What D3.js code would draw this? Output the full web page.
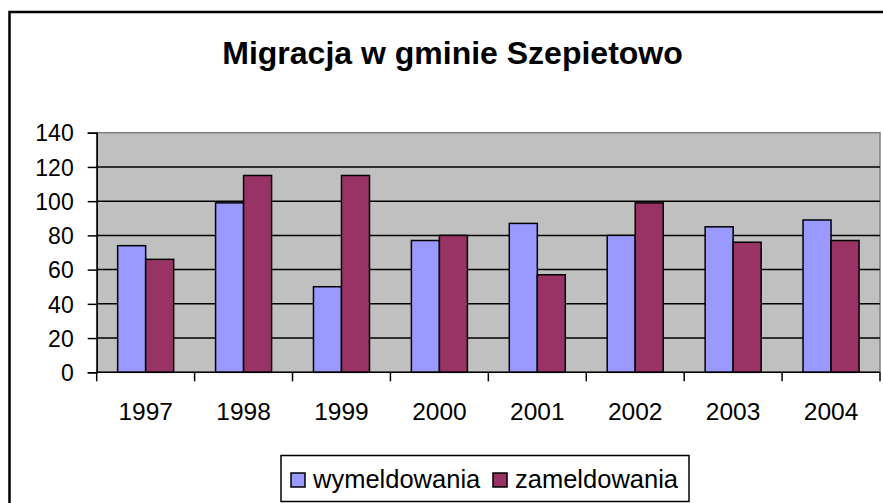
<!DOCTYPE html>
<html>
<head>
<meta charset="utf-8">
<script src="https://d3js.org/d3.v7.min.js"></script>
<style>
  body { margin: 0; background: #fff; }
  svg text { font-family: "Liberation Sans", Arial, sans-serif; fill: #000; }
</style>
</head>
<body>
<svg id="chart"></svg>
<script>
  // Data
  const years = ["1997", "1998", "1999", "2000", "2001", "2002", "2003", "2004"];
  const seriesNames = ["wymeldowania", "zameldowania"];
  const wymeldowania = [74, 99, 50, 77, 87, 80, 85, 89];
  const zameldowania = [66, 115, 115, 80, 57, 99, 76, 77];
  const yTicks = [0, 20, 40, 60, 80, 100, 120, 140];
  const colors = ["#9999FF", "#993366"];

  const width = 883, height = 503;
  const plot = { left: 96.7, right: 880, top: 132.7, bottom: 372.3 };

  const svg = d3.select("#chart")
    .attr("width", width)
    .attr("height", height);

  // outer chart frame (runs past the right and bottom edges)
  svg.append("rect")
    .attr("x", 9.5).attr("y", 12)
    .attr("width", 886).attr("height", 520)
    .attr("fill", "#fff")
    .attr("stroke", "#000")
    .attr("stroke-width", 2.5);

  svg.append("text")
    .attr("x", 452.5).attr("y", 63.5)
    .attr("text-anchor", "middle")
    .style("font-size", "32px")
    .style("font-weight", "bold")
    .text("Migracja w gminie Szepietowo");

  const x = d3.scaleBand()
    .domain(years)
    .range([plot.left, plot.right])
    .padding(0);

  const xInner = d3.scaleBand()
    .domain(seriesNames)
    .range([0, x.bandwidth()])
    .paddingInner(0)
    .paddingOuter(0.748);

  const y = d3.scaleLinear()
    .domain([0, 140])
    .range([plot.bottom, plot.top]);

  // plot background
  svg.append("rect")
    .attr("x", plot.left).attr("y", plot.top)
    .attr("width", plot.right - plot.left)
    .attr("height", plot.bottom - plot.top)
    .attr("fill", "#C0C0C0")
    .attr("stroke", "#808080")
    .attr("stroke-width", 1.5);

  // gridlines
  svg.append("g")
    .selectAll("line")
    .data(yTicks.filter(t => t > 0 && t < 140))
    .enter()
    .append("line")
    .attr("x1", plot.left).attr("x2", plot.right)
    .attr("y1", d => y(d)).attr("y2", d => y(d))
    .attr("stroke", "#000")
    .attr("stroke-width", 1.5);

  // bars
  const rows = years.map((yr, i) => ({ year: yr, values: [wymeldowania[i], zameldowania[i]] }));
  svg.append("g")
    .selectAll("g")
    .data(rows)
    .enter()
    .append("g")
    .attr("transform", d => `translate(${x(d.year)},0)`)
    .selectAll("rect")
    .data(d => d.values.map((v, j) => ({ key: seriesNames[j], value: v, idx: j })))
    .enter()
    .append("rect")
    .attr("x", d => xInner(d.key))
    .attr("y", d => y(d.value))
    .attr("width", xInner.bandwidth())
    .attr("height", d => y(0) - y(d.value))
    .attr("fill", d => colors[d.idx])
    .attr("stroke", "#000")
    .attr("stroke-width", 1.5);

  // y axis
  const yAxis = svg.append("g")
    .attr("transform", `translate(${plot.left},0)`)
    .call(d3.axisLeft(y).tickValues(yTicks).tickSize(9).tickPadding(14));
  yAxis.select(".domain").attr("stroke", "#000").attr("stroke-width", 1.5);
  yAxis.selectAll(".tick line").attr("stroke", "#000").attr("stroke-width", 1.5);
  yAxis.selectAll(".tick text")
    .style("font-size", "23px")
    .attr("font-family", null)
    .attr("dy", "0.36em");

  // x axis with ticks at category boundaries
  const xAxisG = svg.append("g")
    .attr("transform", `translate(0,${plot.bottom})`);
  xAxisG.append("line")
    .attr("x1", plot.left).attr("x2", plot.right)
    .attr("stroke", "#000").attr("stroke-width", 1.5);
  const bounds = years.map(d => x(d)).concat([x(years[years.length - 1]) + x.bandwidth()]);
  xAxisG.selectAll("line.tk")
    .data(bounds)
    .enter()
    .append("line")
    .attr("class", "tk")
    .attr("x1", d => d).attr("x2", d => d)
    .attr("y1", 0).attr("y2", 9)
    .attr("stroke", "#000").attr("stroke-width", 1.5);
  xAxisG.selectAll("text")
    .data(years)
    .enter()
    .append("text")
    .attr("x", d => x(d) + x.bandwidth() / 2)
    .attr("y", 48)
    .attr("text-anchor", "middle")
    .style("font-size", "24.5px")
    .text(d => d);

  // legend
  const legend = svg.append("g");
  legend.append("rect")
    .attr("x", 281).attr("y", 455.5)
    .attr("width", 408).attr("height", 46)
    .attr("fill", "#fff")
    .attr("stroke", "#000")
    .attr("stroke-width", 1.5);
  const legendX = [291, 493];
  seriesNames.forEach((name, i) => {
    legend.append("rect")
      .attr("x", legendX[i]).attr("y", 473)
      .attr("width", 14).attr("height", 14)
      .attr("fill", colors[i])
      .attr("stroke", "#000")
      .attr("stroke-width", 1.5);
    legend.append("text")
      .attr("x", legendX[i] + 22).attr("y", 488)
      .style("font-size", "25.5px")
      .text(name);
  });
</script>
</body>
</html>
